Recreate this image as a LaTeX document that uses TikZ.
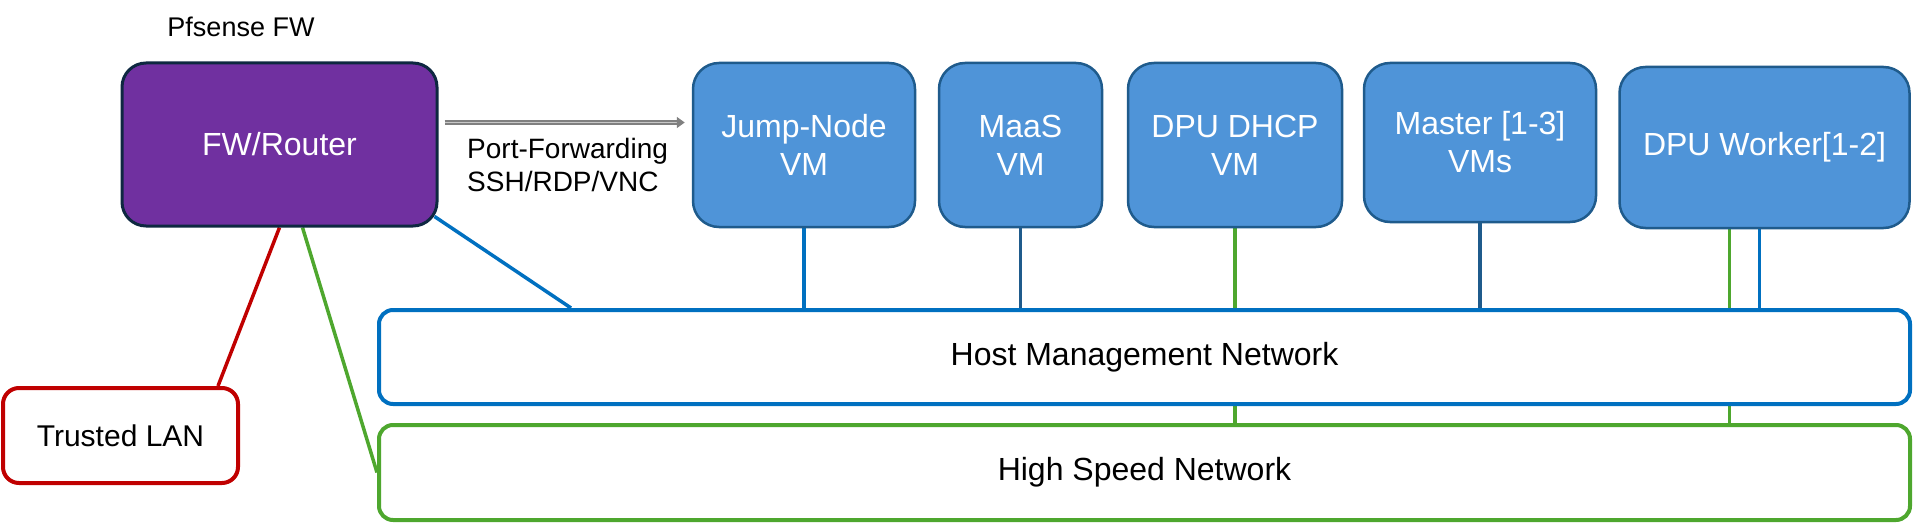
\documentclass[tikz,border=0pt]{standalone}
\usepackage{fontspec}
\setmainfont{Liberation Sans}
\usetikzlibrary{arrows.meta,backgrounds,calc}
\definecolor{vmfill}{RGB}{79,148,216}
\definecolor{vmborder}{RGB}{31,91,140}
\definecolor{fwfill}{HTML}{7030A0}
\definecolor{fwborder}{HTML}{0E2841}
\definecolor{netblue}{HTML}{0070C0}
\definecolor{netgreen}{HTML}{4EA72E}
\definecolor{netred}{HTML}{C00000}
\definecolor{arrgray}{RGB}{128,128,128}
\definecolor{arrlight}{RGB}{200,200,200}
\tikzset{
  vmbox/.style={draw=vmborder, fill=vmfill, line width=2.5pt, rounded corners=26pt,
    text=white, inner sep=0pt, align=center, font=\fontsize{32}{38}\selectfont},
  fwbox/.style={draw=fwborder, fill=fwfill, line width=3pt, rounded corners=24pt,
    text=white, inner sep=0pt, align=center, font=\fontsize{32}{38}\selectfont},
  netbox/.style={fill=white, line width=4pt, rounded corners=14pt, inner sep=0pt,
    font=\fontsize{32}{38}\selectfont},
  lanbox/.style={draw=netred, fill=white, line width=4pt, rounded corners=16pt, inner sep=0pt,
    font=\fontsize{30}{35}\selectfont},
  link/.style={line width=3.5pt},
  lbl/.style={inner sep=0pt, align=left},
}
\begin{document}
\begin{tikzpicture}[x=1pt,y=-1pt]
\useasboundingbox (0,0) rectangle (1913,524);
% boxes
\node[fwbox, minimum width=315pt, minimum height=163pt] (fw) at (279.5,144.5) {FW/Router};
\node[lbl, font=\fontsize{27}{32}\selectfont] (pf) at (241,27) {Pfsense FW};
\node[vmbox, minimum width=222pt, minimum height=164pt] (jump) at (804,145) {Jump-Node\\VM};
\node[vmbox, minimum width=163pt, minimum height=164pt] (maas) at (1020.5,145) {MaaS\\VM};
\node[vmbox, minimum width=214pt, minimum height=164pt] (dhcp) at (1235,145) {DPU DHCP\\VM};
\node[vmbox, minimum width=232pt, minimum height=159pt] (master) at (1480,142.5) {Master [1-3]\\VMs};
\node[vmbox, minimum width=290pt, minimum height=161pt] (worker) at (1764.5,147.5) {DPU Worker[1-2]};
\node[netbox, draw=netblue, minimum width=1531pt, minimum height=94pt] (hmn) at (1144.5,357) {Host Management Network};
\node[netbox, draw=netgreen, minimum width=1531pt, minimum height=95pt] (hsn) at (1144.5,472.5) {High Speed Network};
\node[lanbox, minimum width=235pt, minimum height=95pt] (lan) at (120.5,435.5) {Trusted LAN};
% port forwarding
\coordinate (pfstart) at ([shift={(6,-22)}]fw.east);
\draw[draw=arrgray, double=arrlight, double distance=1.8pt, line width=1.6pt,
  -{Triangle[length=8pt,width=11pt]}, shorten >=7pt] (pfstart) -- (pfstart -| jump.west);
\node[lbl, anchor=west, font=\fontsize{28}{33}\selectfont] (pflabel) at (467,165) {Port-Forwarding\\SSH/RDP/VNC};
% connectors
\begin{scope}[on background layer]
\draw[link, netred] (fw.south) -- ([xshift=-22pt]lan.north east);
\draw[link, netgreen] ([xshift=23pt]fw.south) -- (hsn.west);
\draw[link, netblue] ([shift={(-4,-11)}]fw.south east) -- (hmn.north -| 571,0);
\draw[link, netblue] (jump.south) -- (jump.south |- hmn.north);
\draw[link, vmborder] (maas.south) -- (maas.south |- hmn.north);
\draw[link, netgreen] (dhcp.south) -- (dhcp.south |- hsn.north);
\draw[link, vmborder] (master.south) -- (master.south |- hmn.north);
\draw[link, netgreen] ([xshift=-35pt]worker.south) -- ([xshift=-35pt]worker.south |- hsn.north);
\draw[link, netblue] ([xshift=-5pt]worker.south) -- ([xshift=-5pt]worker.south |- hmn.north);
\end{scope}
\end{tikzpicture}
\end{document}
